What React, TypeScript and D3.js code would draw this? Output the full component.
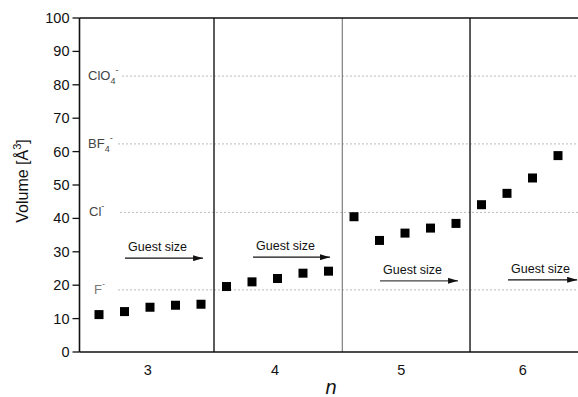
import React from "react";
import * as d3 from "d3";

// point index along x (0..18) and volume values
const groups = [3, 3, 3, 3, 3, 4, 4, 4, 4, 4, 5, 5, 5, 5, 5, 6, 6, 6, 6];
const volumes = [11.2, 12.1, 13.4, 14.0, 14.3, 19.6, 21.0, 22.0, 23.6, 24.2, 40.5, 33.4, 35.6, 37.1, 38.5, 44.1, 47.5, 52.1, 58.8];

const nTicks = ["3", "4", "5", "6"];
const nTickPos = [1.91, 6.9, 11.85, 16.62];
const separators = [4.51, 9.54, 14.55];
const separatorWidths = [1.6, 1, 1.6];

const yTicks = [0, 10, 20, 30, 40, 50, 60, 70, 80, 90, 100];

const ions = [
  { base: "ClO", sub: "4", value: 82.6 },
  { base: "BF", sub: "4", value: 62.3 },
  { base: "Cl", sub: "", value: 41.8 },
  { base: "F", sub: "", value: 18.6 },
];
const ionLineStart = [122, 118, 120, 118];

const arrowStart = [1.02, 6.04, 11.02, 16.04];
const arrowEnd = [4.08, 9.06, 14.08, 18.75];
const arrowValue = [28.1, 28.4, 21.3, 21.6];

export default function App() {
  const W = 578, H = 397;
  const left = 79.5, top = 18, bottom = 352;
  const x = d3.scaleLinear().domain([0, 18]).range([99, 558]);
  const y = d3.scaleLinear().domain([0, 100]).range([bottom, top]);
  const font = "Liberation Sans, Arial, sans-serif";
  const s = 9;

  return (
    <svg width={W} height={H} style={{ position: "absolute", left: 0, top: 0 }} fontFamily={font}>
      <defs>
        <marker id="ah" viewBox="0 0 10 6" refX="10" refY="3" markerWidth="10" markerHeight="6" markerUnits="userSpaceOnUse" orient="auto">
          <path d="M0,0 L10,3 L0,6 Z" fill="#111" />
        </marker>
      </defs>
      <rect width={W} height={H} fill="#fff" />
      {/* ion dashed lines */}
      {ions.map((d, i) => (
        <g key={d.base}>
          <line x1={ionLineStart[i]} x2={W} y1={y(d.value)} y2={y(d.value)} stroke="#bbb" strokeWidth={1} strokeDasharray="2,2" />
          <text x={i === 3 ? 94 : i === 2 ? 89 : 88} y={y(d.value) + 4} fontSize={13} fill={i === 3 ? "#777" : "#444"}>
            {d.base}
            {d.sub && <tspan fontSize={9} dy={4}>{d.sub}</tspan>}
            <tspan fontSize={9} dy={d.sub ? -11 : -7}>-</tspan>
          </text>
        </g>
      ))}
      {/* separators */}
      {separators.map((p, i) => (
        <line key={i} x1={x(p)} x2={x(p)} y1={top} y2={bottom} stroke={i === 1 ? "#666" : "#333"} strokeWidth={separatorWidths[i]} />
      ))}
      {/* axes */}
      <line x1={left} x2={W} y1={top} y2={top} stroke="#111" strokeWidth={1.6} />
      <line x1={left} x2={W} y1={bottom} y2={bottom} stroke="#111" strokeWidth={1.6} />
      <line x1={left} x2={left} y1={top} y2={bottom} stroke="#111" strokeWidth={1.6} />
      {yTicks.map((t) => (
        <g key={t}>
          <line x1={left - 7} x2={left} y1={y(t)} y2={y(t)} stroke="#111" strokeWidth={1.3} />
          <text x={left - 10} y={y(t) + 5} fontSize={14.5} textAnchor="end" fill="#111">{t}</text>
        </g>
      ))}
      {nTicks.map((t, i) => (
        <text key={t} x={x(nTickPos[i])} y={bottom + 23} fontSize={14.5} textAnchor="middle" fill="#111">{t}</text>
      ))}
      <text x={331} y={394} fontSize={20} fontStyle="italic" textAnchor="middle" fill="#111">n</text>
      <text transform={`translate(28,181) rotate(-90)`} fontSize={16} textAnchor="middle" fill="#111">
        Volume [Å<tspan fontSize={11} dy={-7}>3</tspan><tspan dy={7}>]</tspan>
      </text>
      {/* guest size arrows */}
      {arrowStart.map((a, i) => (
        <g key={i}>
          <text x={x(a) + 3} y={y(arrowValue[i]) - 7} fontSize={12.5} fill="#111">Guest size</text>
          <line x1={x(a)} x2={x(arrowEnd[i])} y1={y(arrowValue[i])} y2={y(arrowValue[i])} stroke={i === 2 ? "#444" : "#111"} strokeWidth={1.2} markerEnd="url(#ah)" />
        </g>
      ))}
      {/* points */}
      {volumes.map((v, i) => (
        <rect key={i} x={x(i) - s / 2} y={y(v) - s / 2} width={s} height={s} fill="#000" data-group={groups[i]} />
      ))}
    </svg>
  );
}
